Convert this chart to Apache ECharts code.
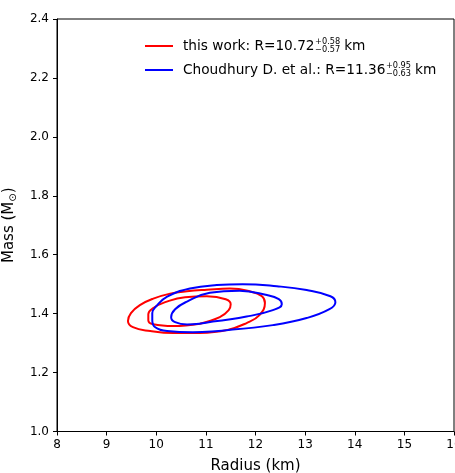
<!DOCTYPE html>
<html><head><meta charset="utf-8">
<script src="https://cdn.jsdelivr.net/npm/echarts@6/dist/echarts.min.js"></script>
<style>html,body{margin:0;padding:0;background:#fff}#c{width:455px;height:473px}</style>
</head><body><div id="c"></div>
<script>
// ---- data ----
const xTicks = [8, 9, 10, 11, 12, 13, 14, 15, 16];
const yTicks = [1.0, 1.2, 1.4, 1.6, 1.8, 2.0, 2.2, 2.4];
const redName = 'this work';
const blueName = 'Choudhury D. et al.';
const redLabel = { main: 'this work: R=10.72', sup: '+0.58', sub: '\u22120.57' };
const blueLabel = { main: 'Choudhury D. et al.: R=11.36', sup: '+0.95', sub: '\u22120.63' };
const redOuter = [[10.88,1.334],[11.42,1.344],[11.82,1.368],[12.08,1.395],[12.19,1.436],[12.13,1.459],[11.88,1.476],[11.48,1.485],[11.02,1.481],[10.62,1.476],[10.28,1.468],[9.94,1.451],[9.67,1.429],[9.49,1.402],[9.43,1.375],[9.53,1.354],[9.88,1.341],[10.34,1.334],[10.88,1.334]];
const redInner = [[10.88,1.366],[11.28,1.388],[11.46,1.412],[11.50,1.432],[11.40,1.449],[11.02,1.459],[10.58,1.456],[10.18,1.439],[9.94,1.419],[9.84,1.398],[9.84,1.378],[9.94,1.364],[10.34,1.358],[10.88,1.366]];
const blueOuter = [[11.54,1.346],[12.35,1.361],[13.03,1.385],[13.49,1.415],[13.61,1.439],[13.51,1.459],[13.03,1.480],[12.43,1.493],[11.74,1.500],[11.22,1.497],[10.68,1.485],[10.22,1.458],[10.00,1.425],[9.92,1.402],[9.92,1.378],[9.98,1.354],[10.22,1.341],[10.74,1.337],[11.54,1.346]];
const blueInner = [[11.14,1.373],[11.82,1.390],[12.35,1.412],[12.53,1.432],[12.47,1.449],[12.23,1.463],[11.68,1.478],[11.08,1.471],[10.62,1.441],[10.38,1.415],[10.30,1.388],[10.38,1.371],[10.62,1.363],[11.14,1.373]];

// ---- style ----
const FONT = 'DejaVu Sans';
const LEG_FS = 13.7, SUP_FS = 8.2;
const legLeft = 145, textStart = 183;
const redY = 46, blueY = 70;

function measure(t, fs) {
  const ctx = document.createElement('canvas').getContext('2d');
  ctx.font = fs + 'px "' + FONT + '"';
  return ctx.measureText(t).width;
}

function legendFor(name, lab, cy) {
  const gapW = Math.max(measure(lab.sup, SUP_FS), measure(lab.sub, SUP_FS)) + 4.5;
  return {
    data: [name], left: legLeft, top: cy - 7, orient: 'vertical', padding: 0,
    itemWidth: 28, itemHeight: 2, icon: 'rect', selectedMode: false,
    formatter: () => '{p|}{a|' + lab.main + '}{g|}{a|km}',
    textStyle: {
      fontFamily: FONT, fontSize: LEG_FS, color: '#000',
      rich: {
        p: { width: textStart - legLeft - 28 - 5, lineHeight: 16 },
        a: { fontFamily: FONT, fontSize: LEG_FS, lineHeight: 16, color: '#000' },
        g: { width: gapW, lineHeight: 16 }
      }
    }
  };
}
function scripts(lab, cy) {
  const x = textStart + measure(lab.main, LEG_FS) + 0.5;
  const st = { fontFamily: FONT, fontSize: SUP_FS, fill: '#000', verticalAlign: 'middle', align: 'left' };
  return [
    { type: 'text', x: x, y: cy - 4.5, style: Object.assign({ text: lab.sup }, st), z: 100 },
    { type: 'text', x: x, y: cy + 3.5, style: Object.assign({ text: lab.sub }, st), z: 100 }
  ];
}
function contour(name, data, color) {
  return { type: 'line', name: name, data: data, smooth: 0.45, showSymbol: false, symbol: 'none',
    lineStyle: { color: color, width: 2 }, itemStyle: { color: color }, silent: true, animation: false };
}

const chart = echarts.init(document.getElementById('c'), null, { renderer: 'canvas' });
chart.setOption({
  animation: false,
  backgroundColor: '#fff',
  grid: { left: 57, right: 1, top: 19, bottom: 41.5, show: true, borderColor: '#000', borderWidth: 1,
    backgroundColor: 'transparent', containLabel: false, outerBoundsMode: 'none' },
  xAxis: {
    type: 'value', min: xTicks[0], max: xTicks[xTicks.length - 1], interval: 1,
    name: 'Radius (km)', nameLocation: 'middle', nameGap: 27,
    nameTextStyle: { fontFamily: FONT, fontSize: 15, color: '#000' },
    axisLine: { show: true, lineStyle: { color: '#000', width: 1 } },
    axisTick: { show: true, inside: false, length: 4, lineStyle: { color: '#000' } },
    axisLabel: { fontFamily: FONT, fontSize: 12, color: '#000', margin: 7, formatter: v => String(v), showMaxLabel: true, showMinLabel: true, hideOverlap: false },
    splitLine: { show: false }
  },
  yAxis: {
    type: 'value', min: yTicks[0], max: yTicks[yTicks.length - 1], interval: 0.2,
    name: '{a|Mass (M}{s|\u2299}{a|)}', nameLocation: 'middle', nameGap: 30,
    nameTextStyle: { fontFamily: FONT, fontSize: 15, color: '#000',
      rich: { a: { fontFamily: FONT, fontSize: 15, color: '#000', lineHeight: 20, verticalAlign: 'middle' },
              s: { fontFamily: FONT, fontSize: 10, color: '#000', lineHeight: 20, verticalAlign: 'bottom', padding: [0, 0, 1, 0] } } },
    axisLine: { show: true, lineStyle: { color: '#000', width: 1 } },
    axisTick: { show: true, inside: false, length: 4, lineStyle: { color: '#000' } },
    axisLabel: { fontFamily: FONT, fontSize: 12, color: '#000', margin: 8, formatter: v => v.toFixed(1), showMaxLabel: true, showMinLabel: true },
    splitLine: { show: false }
  },
  legend: [legendFor(redName, redLabel, redY), legendFor(blueName, blueLabel, blueY)],
  graphic: scripts(redLabel, redY).concat(scripts(blueLabel, blueY)),
  series: [
    contour(redName, redOuter, '#ff0000'),
    contour(redName, redInner, '#ff0000'),
    contour(blueName, blueOuter, '#0000ff'),
    contour(blueName, blueInner, '#0000ff')
  ]
});
</script>
</body></html>
